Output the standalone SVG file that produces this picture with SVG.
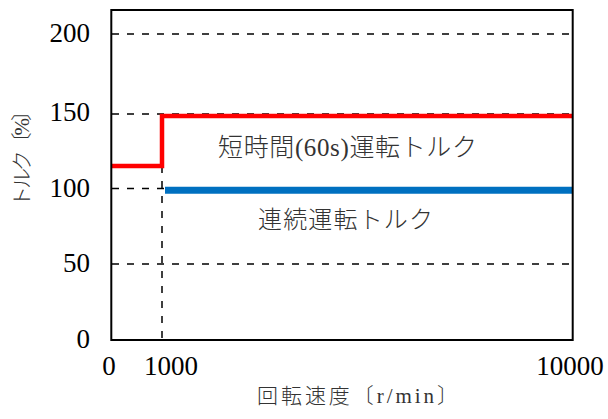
<svg xmlns="http://www.w3.org/2000/svg" width="608" height="419" viewBox="0 0 608 419">
<style>
.grid{stroke:#000;stroke-width:1.5;stroke-dasharray:7 8;fill:none}
.num{font-family:"Liberation Serif","Times New Roman",serif;font-size:27px;fill:#000}
.jp{font-family:"Liberation Serif","Noto Sans CJK JP",serif;font-weight:300;fill:#333}
</style>
<rect width="608" height="419" fill="#fff"/>
<g id="gridlines">
<line class="grid" x1="112" y1="34" x2="572" y2="34"/>
<line class="grid" x1="112" y1="114" x2="572" y2="114"/>
<line class="grid" x1="112" y1="188.5" x2="572" y2="188.5"/>
<line class="grid" x1="112" y1="264" x2="572" y2="264"/>
<line class="grid" x1="162" y1="166" x2="162" y2="340"/>
</g>
<g id="connectors">
<polyline id="short-time" points="111,166 162,166 162,116 573,116" fill="none" stroke="#ff0000" stroke-width="4.5"/>
<line id="continuous" x1="165" y1="190.3" x2="573" y2="190.3" stroke="#0070c0" stroke-width="7"/>
</g>
<g id="axes">
<rect x="111.3" y="10" width="461.4" height="330" fill="none" stroke="#000" stroke-width="2"/>
</g>
<g id="y-ticks" class="num" text-anchor="end">
<text x="90" y="42">200</text>
<text x="90" y="121">150</text>
<text x="90" y="197">100</text>
<text x="90" y="272">50</text>
<text x="90" y="348">0</text>
</g>
<g id="x-ticks" class="num" text-anchor="middle">
<text x="109" y="375">0</text>
<text x="171" y="375">1000</text>
<text x="570" y="375">10000</text>
</g>
<g id="label-short">
<text class="jp" x="218" y="156" font-size="25" textLength="259" lengthAdjust="spacing">短時間(60s)運転トルク</text>
</g>
<g id="label-cont">
<text class="jp" x="258" y="228" font-size="24" textLength="175" lengthAdjust="spacing">連続運転トルク</text>
</g>
<g id="x-title">
<text class="jp" x="257" y="403" font-size="21" textLength="201" lengthAdjust="spacing">回転速度〔r/min〕</text>
</g>
<g id="y-title">
<text class="jp" transform="translate(29,207) rotate(-90)" x="0" y="0" font-size="21" textLength="107" lengthAdjust="spacing">トルク〔%〕</text>
</g>
</svg>
